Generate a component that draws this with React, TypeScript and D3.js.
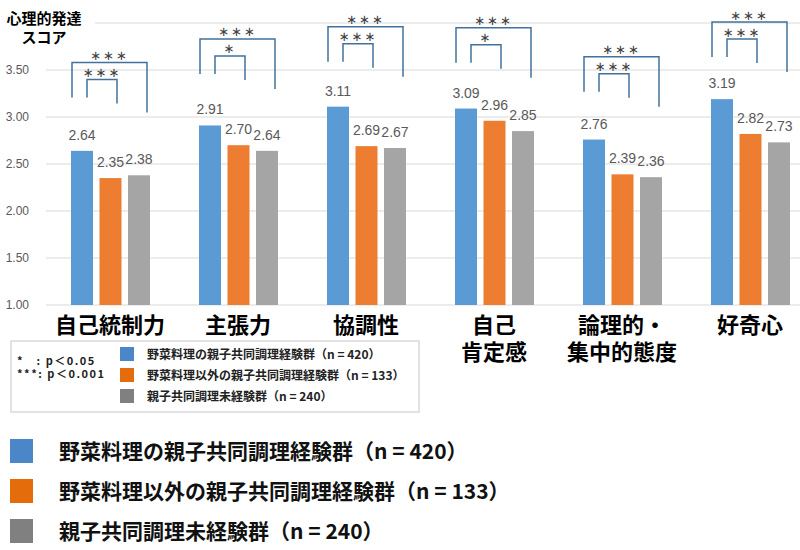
import * as d3 from 'd3';

// categories and their printed line breaks
const categories = ['自己統制力', '主張力', '協調性', '自己肯定感', '論理的・集中的態度', '好奇心'];
const categoryLines = [['自己統制力'], ['主張力'], ['協調性'], ['自己', '肯定感'], ['論理的・', '集中的態度'], ['好奇心']];

const seriesKeys = ['veg', 'other', 'none'];
const seriesNames = [
    '野菜料理の親子共同調理経験群（n = 420）',
    '野菜料理以外の親子共同調理経験群（n = 133）',
    '親子共同調理未経験群（n = 240）',
];
const vegCooking = [2.64, 2.91, 3.11, 3.09, 2.76, 3.19];
const otherCooking = [2.35, 2.7, 2.69, 2.96, 2.39, 2.82];
const noCooking = [2.38, 2.64, 2.67, 2.85, 2.36, 2.73];

const yTicks = [1.0, 1.5, 2.0, 2.5, 3.0, 3.5, 4.0];
const yTickLabels = ['1.00', '1.50', '2.00', '2.50', '3.00', '3.50', ''];

// significance marks (blue vs gray = outer, blue vs orange = inner)
const outerSig = ['***', '***', '***', '***', '***', '***'];
const innerSig = ['***', '*', '***', '*', '***', '***'];
const bracketTop = [3.58, 3.83, 3.96, 3.95, 3.64, 4.01];

const sigNotes = ['*　: p＜0.05', '***: p＜0.001'];

const barColors = ['#5B9BD5', '#ED7D31', '#A5A5A5'];
const legendColors = ['#4A86C8', '#E46C0A', '#808080'];
const bracketColor = '#41719C';
const jp = '"Noto Sans CJK JP", "Noto Sans", sans-serif';
const num = '"Liberation Sans", Arial, sans-serif';

export default function App() {
    const W = 800;
    const H = 550;
    const values = [vegCooking, otherCooking, noCooking];

    const y = d3.scaleLinear().domain([1, 4]).range([305, 23]);
    const x0 = d3.scaleBand<string>().domain(categories).range([46, 814]).padding(0);
    const x1 = d3.scaleBand<string>().domain(seriesKeys).range([25, 104]).paddingInner(0.228).paddingOuter(0);
    const bw = x1.bandwidth();

    return (
        <div style={{ position: 'fixed', left: 0, top: 0 }}>
            <svg width={W} height={H} style={{ display: 'block', background: '#fff' }}>
                {/* gridlines */}
                {yTicks.map((t) => (
                    <line key={t} x1={46} x2={W} y1={y(t)} y2={y(t)} stroke="#D9D9D9" strokeWidth={1} />
                ))}
                {yTicks.map((t, i) => (
                    <text key={'yl' + t} x={29} y={y(t) + 4} textAnchor="end" fontSize={12} fill="#595959" fontFamily={num}>
                        {yTickLabels[i]}
                    </text>
                ))}

                {/* axis title over a white patch */}
                <rect x={0} y={0} width={95} height={48} fill="#fff" />
                <text x={44} y={24} textAnchor="middle" fontSize={15} fontWeight="bold" fontFamily={jp}>
                    心理的発達
                </text>
                <text x={44} y={43} textAnchor="middle" fontSize={15} fontWeight="bold" fontFamily={jp}>
                    スコア
                </text>

                {/* bars */}
                {categories.map((c, ci) => (
                    <g key={c} transform={`translate(${x0(c)},0)`}>
                        {seriesKeys.map((k, si) => {
                            const v = values[si][ci];
                            return (
                                <g key={k}>
                                    <rect x={x1(k)} y={y(v)} width={bw} height={y(1) - y(v)} fill={barColors[si]} />
                                    <text
                                        x={(x1(k) as number) + bw / 2}
                                        y={y(v) - 11}
                                        textAnchor="middle"
                                        fontSize={14}
                                        fill="#595959"
                                        fontFamily={num}
                                    >
                                        {v.toFixed(2)}
                                    </text>
                                </g>
                            );
                        })}
                    </g>
                ))}

                {/* significance brackets */}
                {categories.map((c, ci) => {
                    const ox0 = (x0(c) as number) + (x1('veg') as number) + 1;
                    const ox1 = ox0 + 75;
                    const ix0 = ox0 + 15;
                    const ix1 = ix0 + 30;
                    const top = y(bracketTop[ci]);
                    const itop = top + 17;
                    return (
                        <g key={'sig' + c} fill="none" stroke={bracketColor} strokeWidth={1.5}>
                            <path d={`M${ox0},${top + 35}V${top}H${ox1}V${top + 50}`} />
                            <path d={`M${ix0},${top + 35}V${itop}H${ix1}V${top + 41}`} />
                            <text
                                x={(ox0 + ox1) / 2}
                                y={top - 7}
                                textAnchor="middle"
                                dominantBaseline="central"
                                fontSize={13}
                                letterSpacing={2}
                                fill="#404040"
                                stroke="none"
                                fontFamily='"DejaVu Sans", sans-serif'
                            >
                                {outerSig[ci].replace(/\*/g, '∗')}
                            </text>
                            <text
                                x={(ix0 + ix1) / 2}
                                y={itop - 7}
                                textAnchor="middle"
                                dominantBaseline="central"
                                fontSize={13}
                                letterSpacing={2}
                                fill="#404040"
                                stroke="none"
                                fontFamily='"DejaVu Sans", sans-serif'
                            >
                                {innerSig[ci].replace(/\*/g, '∗')}
                            </text>
                        </g>
                    );
                })}

                {/* category labels */}
                {categories.map((c, ci) => (
                    <text key={'cl' + c} textAnchor="middle" fontSize={22} fontWeight="bold" fontFamily={jp}>
                        {categoryLines[ci].map((line, li) => (
                            <tspan key={li} x={(x0(c) as number) + x0.bandwidth() / 2} y={333 + li * 27}>
                                {line}
                            </tspan>
                        ))}
                    </text>
                ))}

                {/* inner legend box */}
                <rect x={11} y={341} width={408} height={71} fill="#fff" stroke="#D9D9D9" strokeWidth={1.5} />
                {sigNotes.map((s, i) => (
                    <text key={s} x={17} y={365 + i * 13} fontSize={11} fontWeight="bold" letterSpacing={1.5} fontFamily={jp} fill="#222">
                        {s}
                    </text>
                ))}
                {seriesNames.map((n, i) => (
                    <g key={'lg' + i}>
                        <rect x={120} y={347 + i * 21} width={14} height={14} fill={legendColors[i]} />
                        <text x={147} y={358.5 + i * 21} fontSize={12} fontWeight="bold" fontFamily={jp} fill="#222">
                            {n}
                        </text>
                    </g>
                ))}

                {/* bottom legend */}
                {seriesNames.map((n, i) => (
                    <g key={'bl' + i}>
                        <rect x={10} y={439 + i * 40} width={23} height={24} fill={legendColors[i]} />
                        <text x={59} y={459 + i * 40} fontSize={21} fontWeight="bold" fontFamily={jp} fill="#111">
                            {n}
                        </text>
                    </g>
                ))}
            </svg>
        </div>
    );
}
